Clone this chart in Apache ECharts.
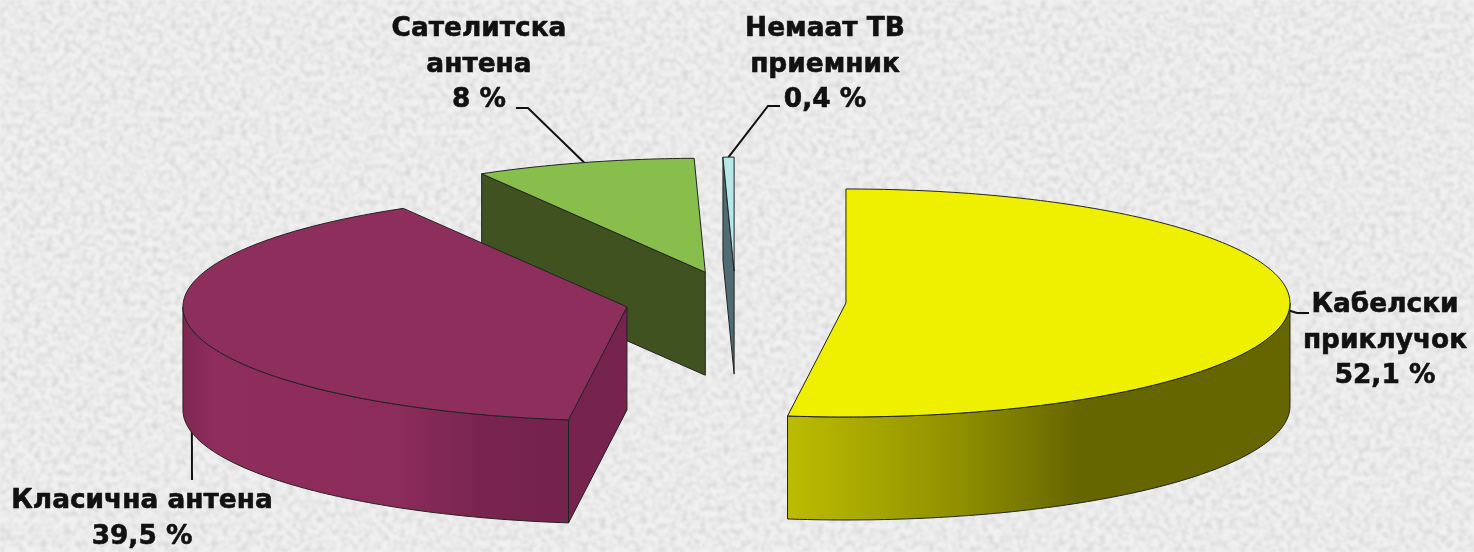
<!DOCTYPE html>
<html>
<head>
<meta charset="utf-8">
<style>
  html, body { margin: 0; height: 100%; background-color: #e6e6e6; }
  #texture { position: absolute; left: 0; top: 0; width: 1474px; height: 552px; }
  #chart { position: absolute; left: 0; top: 0; width: 1474px; height: 552px; }
</style>
<script src="https://cdn.jsdelivr.net/npm/echarts@6/dist/echarts.min.js"></script>
</head>
<body>
<svg id="texture" xmlns="http://www.w3.org/2000/svg">
  <filter id="grain" x="0" y="0" width="100%" height="100%">
    <feTurbulence type="fractalNoise" baseFrequency="0.17" numOctaves="3" seed="7"/>
    <feColorMatrix type="matrix" values="0 0 0 0 0.55  0 0 0 0 0.55  0 0 0 0 0.55  1.3 0 0 0 -0.5"/>
    <feGaussianBlur stdDeviation="0.8"/>
  </filter>
  <rect width="1474" height="552" fill="#f1f1f1"/>
  <rect width="1474" height="552" filter="url(#grain)"/>
</svg>
<div id="chart"></div>
<script>
// values
const categories = ['Кабелски\nприклучок', 'Класична антена', 'Сателитска\nантена', 'Немаат ТВ\nприемник']
const values = [52.1, 39.5, 8, 0.4]
const drawRank = [4, 3, 1, 2]

const topColors = ['#efef00', '#8e2e5c', '#88bf4c', '#b6e8ea']
const cutColors = ['#666600', '#76244e', '#3f5220', '#4f6b73']
const wallStops = [
  [[0, '#bcbc00'], [0.34, '#909000'], [0.58, '#666600'], [1, '#666600']],
  [[0, '#7e2751'], [0.08, '#8f2d5d'], [0.55, '#8c2c5a'], [0.78, '#78244f'], [1, '#74234d']],
  [[0, '#3f5220'], [1, '#3f5220']],
  [[0, '#4f6b73'], [1, '#4f6b73']]
]

// pie layout
const center = [735.5, 301]
const radiusX = 444
const radiusY = 114
const depth = 103
const explode = 110.7
const explodeTilt = 0.27
const edgeColor = '#222'

// label layout: text centre, then where the leader bends
const labelCenters = [[1385, 341], [142, 519], [479, 65], [825, 65]]
const leaderBends = [
  [[1297, 313], [1309, 313]],
  [[192, 480]],
  [[528, 108], [516, 108]],
  [[768, 106], [780, 106]]
]

const total = values.reduce((a, b) => a + b, 0)
const rad = d => d * Math.PI / 180

function rim(c, deg) {
  return [c[0] + radiusX * Math.sin(rad(deg)), c[1] - radiusY * Math.cos(rad(deg))]
}

function arcPoints(c, from, to) {
  const pts = []
  for (let d = from; d < to; d += 1) pts.push(rim(c, d))
  pts.push(rim(c, to))
  return pts
}

function down(p) {
  return [p[0], p[1] + depth]
}

function face(points, fill, z2) {
  return {
    type: 'polygon',
    z2: z2,
    shape: { points: points },
    style: { fill: fill, stroke: edgeColor, lineWidth: 1 }
  }
}

function renderSlice(params, api) {
  const i = params.dataIndex
  const value = api.value(0)
  let before = 0
  for (let k = 0; k < i; k++) before += values[k]
  const start = before / total * 360
  const end = start + value / total * 360
  const mid = (start + end) / 2
  const c = [
    center[0] + explode * Math.sin(rad(mid)),
    center[1] - explode * Math.cos(rad(mid)) * explodeTilt
  ]
  const z = drawRank[i] * 10
  const children = []

  // leader goes under the slice walls
  const anchor = rim(c, mid)
  children.push({
    type: 'polyline',
    z2: z - 1,
    shape: { points: [anchor].concat(leaderBends[i]) },
    style: { fill: null, stroke: '#111', lineWidth: 2 }
  })

  // cut face is only seen when it turns toward the viewer
  if (Math.sin(rad(start)) < -0.001) {
    const p = rim(c, start)
    children.push(face([c, p, down(p), down(c)], cutColors[i], z))
  }

  // outer wall: front half of the rim
  const wallFrom = Math.max(start, 90)
  const wallTo = Math.min(end, 270)
  if (wallFrom < wallTo) {
    const upper = arcPoints(c, wallFrom, wallTo)
    const lower = upper.map(down).reverse()
    const stops = wallStops[i].map(s => ({ offset: s[0], color: s[1] }))
    children.push(face(upper.concat(lower), {
      type: 'linear', x: 0, y: 0, x2: 1, y2: 0, colorStops: stops
    }, z + 1))
  }

  // top
  children.push(face([c].concat(arcPoints(c, start, end)), topColors[i], z + 2))

  // label
  const text = categories[i] + '\n' + String(value).replace('.', ',') + ' %'
  children.push({
    type: 'text',
    z2: 100,
    x: labelCenters[i][0],
    y: labelCenters[i][1],
    style: {
      text: text,
      fill: '#111',
      stroke: '#111',
      lineWidth: 0.6,
      font: 'bold 26.4px "DejaVu Sans"',
      lineHeight: 35.5,
      align: 'center',
      verticalAlign: 'middle'
    }
  })

  return { type: 'group', children: children }
}

const chart = echarts.init(document.getElementById('chart'), null, { renderer: 'canvas' })
chart.setOption({
  animation: false,
  backgroundColor: 'transparent',
  series: [{
    type: 'custom',
    coordinateSystem: 'none',
    renderItem: renderSlice,
    data: values.map(v => [v])
  }]
})
</script>
</body>
</html>
